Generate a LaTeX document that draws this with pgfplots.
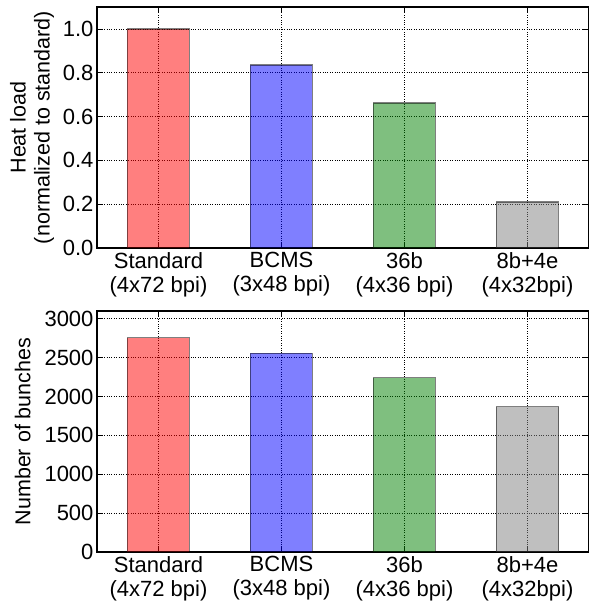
\documentclass[border=0pt]{standalone}
\usepackage{pgfplots}
\pgfplotsset{compat=1.18}
\usepackage{fontspec}
\setmainfont{Liberation Sans}

\definecolor{cred}{HTML}{FF0000}
\definecolor{cblue}{HTML}{0000FF}
\definecolor{cgreen}{HTML}{008000}
\definecolor{cgray}{HTML}{808080}

\pgfplotsset{
  bunchaxis/.style={
    width=492pt, height=241pt, scale only axis,
    xmin=-0.5, xmax=3.5, ymin=0,
    xtick={0,1,2,3},
    xticklabels={{Standard\\(4x72 bpi)},{BCMS\\(3x48 bpi)},{36b\\(4x36 bpi)},{8b+4e\\(4x32bpi)}},
    xticklabel style={align=center, yshift=-1pt},
    yticklabel={\pgfmathprintnumber{\tick}},
    every tick label/.append style={font=\fontsize{22}{24}\selectfont},
    label style={font=\fontsize{21.5}{24}\selectfont},
    grid=major, grid style={black, dotted, line width=0.7pt},
    tick align=inside, xtick pos=both, ytick pos=both,
    major tick length=6pt,
    axis line style={line width=1.2pt},
    tick style={black, line width=0.8pt},
    /pgf/number format/assume math mode=true,
    ylabel style={align=center},
  },
  hbar/.style={ybar, bar shift=0pt, bar width=62pt, fill=#1, fill opacity=0.5,
    draw=black, draw opacity=0.5, line width=1.2pt},
}

\begin{document}
\begin{tikzpicture}
\begin{axis}[bunchaxis, name=top,
  ymax=1.1, ytick={0,0.2,...,1.0},
  yticklabel style={/pgf/number format/fixed, /pgf/number format/fixed zerofill, /pgf/number format/precision=1},
  ylabel={Heat load\\(normalized to standard)}, ylabel shift=2pt,
]
\addplot[hbar=cred] coordinates {(0,1.0)};
\addplot[hbar=cblue] coordinates {(1,0.835)};
\addplot[hbar=cgreen] coordinates {(2,0.662)};
\addplot[hbar=cgray] coordinates {(3,0.21)};
\end{axis}
\begin{axis}[bunchaxis, at={(top.south west)}, anchor=north west, yshift=-63pt,
  ymax=3100, ytick={0,500,...,3000},
  yticklabel style={/pgf/number format/set thousands separator={}},
  ylabel={Number of bunches}, ylabel shift=7pt,
]
\addplot[hbar=cred] coordinates {(0,2756)};
\addplot[hbar=cblue] coordinates {(1,2556)};
\addplot[hbar=cgreen] coordinates {(2,2240)};
\addplot[hbar=cgray] coordinates {(3,1868)};
\end{axis}
\pgfresetboundingbox
\path ([shift={(-97pt,7pt)}]top.north west) rectangle ([shift={(492pt,-599pt)}]top.north west);
\end{tikzpicture}
\end{document}
